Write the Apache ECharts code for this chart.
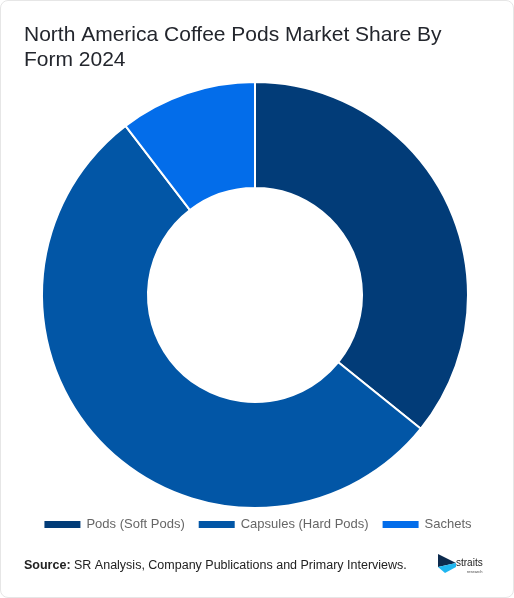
<!DOCTYPE html>
<html>
<head>
<meta charset="utf-8">
<script src="https://cdn.jsdelivr.net/npm/echarts@6/dist/echarts.min.js"></script>
<style>
html,body{margin:0;padding:0;background:#fff;}
#card{position:absolute;left:0;top:0;width:512px;height:596px;border:1px solid #e6e6e6;border-radius:8px;overflow:hidden;}
#chart{width:512px;height:596px;}
</style>
</head>
<body>
<div id="card"><div id="chart"></div></div>
<script>
const titleText = "North America Coffee Pods Market Share By\nForm 2024";
const categories = ["Pods (Soft Pods)", "Capsules (Hard Pods)", "Sachets"];
const shares = [35.8, 53.8, 10.4];
const colors = ["#023C78", "#0256A6", "#036DEA"];

const chart = echarts.init(document.getElementById('chart'), null, {renderer: 'canvas'});
chart.setOption({
  animation: false,
  color: colors,
  title: {
    text: titleText,
    left: 18, top: 17,
    textStyle: {fontFamily: 'Liberation Sans, Arial, sans-serif', fontSize: 21, fontWeight: 'normal', color: '#23262d', lineHeight: 25}
  },
  legend: {
    bottom: 61, left: 'center',
    itemWidth: 38, itemHeight: 9, itemGap: 12,
    icon: 'rect',
    textStyle: {fontFamily: 'Liberation Sans, Arial, sans-serif', fontSize: 13, color: '#666'},
    data: categories
  },
  series: [{
    type: 'pie',
    center: [254, 294],
    radius: [107, 213],
    startAngle: 90,
    clockwise: true,
    label: {show: false},
    labelLine: {show: false},
    itemStyle: {borderColor: '#fff', borderWidth: 2},
    data: categories.map((c, i) => ({name: c, value: shares[i]}))
  }],
  graphic: [
    {
      type: 'text', left: 23, top: 558,
      style: {
        rich: {b: {fontWeight: 'bold', fontSize: 12.5, fill: '#222', fontFamily: 'Liberation Sans, Arial, sans-serif'},
               n: {fontSize: 12.5, fill: '#222', fontFamily: 'Liberation Sans, Arial, sans-serif'}},
        text: '{b|Source:}{n| SR Analysis, Company Publications and Primary Interviews.}'
      }
    },
    {type: 'polygon', shape: {points: [[437,553],[455,562],[437,566]]}, style: {fill: '#0c2a4d'}},
    {type: 'polygon', shape: {points: [[455,562],[437,566],[444,572],[455,566]]}, style: {fill: '#1fb6f0'}},
    {type: 'text', left: 455, top: 557, style: {text: 'straits', fontSize: 10, fill: '#222', fontFamily: 'Liberation Sans, Arial, sans-serif'}},
    {type: 'text', left: 466, top: 569, style: {text: 'research', fontSize: 4, fill: '#444', fontFamily: 'Liberation Sans, Arial, sans-serif'}}
  ]
});
</script>
</body>
</html>
